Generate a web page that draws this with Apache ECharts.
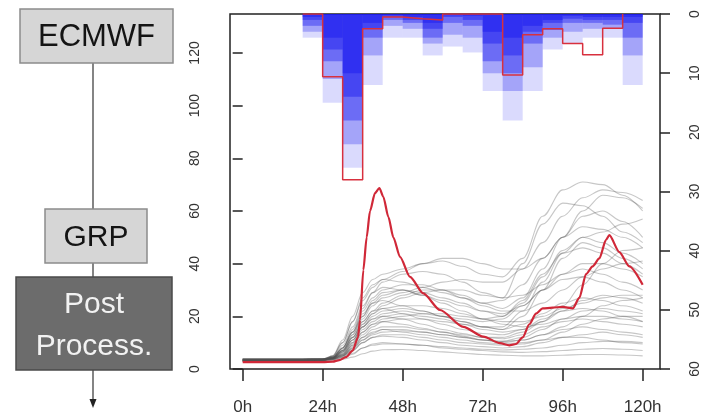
<!DOCTYPE html>
<html>
<head>
<meta charset="utf-8">
<script src="https://cdn.jsdelivr.net/npm/echarts@6/dist/echarts.min.js"></script>
<style>
  html, body { margin: 0; padding: 0; background: #ffffff; }
  #chart { width: 706px; height: 418px; }
</style>
</head>
<body>
<div id="chart"></div>
<script>
const FONT = '"Liberation Sans", Arial, Helvetica, sans-serif';

// Lead-time axis ticks
const timeTicks = [0, 24, 48, 72, 96, 120];
const timeTickLabels = ['0h', '24h', '48h', '72h', '96h', '120h'];
// Discharge axis (left) and rainfall axis (right, inverted)
const dischargeTicks = [0, 20, 40, 60, 80, 100, 120];
const rainTicks = [0, 10, 20, 30, 40, 50, 60];

// 6-hourly rainfall bins: start hour of each bin
const rainBinStart = [0, 6, 12, 18, 24, 30, 36, 42, 48, 54, 60, 66, 72, 78, 84, 90, 96, 102, 108, 114];
const rainBinHours = 6;
// Ensemble rainfall quantiles per bin (mm)
const rainQ90 = [0, 0, 0, 4, 15, 26, 12, 4, 4, 7, 5.5, 6.5, 13, 18, 13, 6, 5, 4, 4, 12];
const rainQ75 = [0, 0, 0, 3, 11, 22, 7, 2, 2.5, 5, 3.5, 4, 10, 13, 9, 4, 3, 2.5, 2.5, 7];
const rainQ50 = [0, 0, 0, 2, 8, 18, 4, 1, 1.5, 4, 1.5, 2, 8, 10, 5, 2.7, 1.5, 1.5, 1.8, 4];
const rainQ25 = [0, 0, 0, 1, 6, 14, 2.5, 0.5, 1, 2.5, 0.5, 1, 5, 7, 3, 1.5, 0.8, 1, 1, 1.5];
const rainQ10 = [0, 0, 0, 0.5, 4, 10, 1.5, 0.2, 0.5, 1.5, 0.2, 0.3, 3, 4, 2, 1, 0.3, 0.5, 0.5, 0.5];
// Observed rainfall per bin (mm)
const rainObserved = [null, null, null, 0, 10.6, 28, 2.5, 0.5, 0.8, 1, 0, 0, 0, 10.3, 3.5, 2.5, 5, 6.9, 2.4, 0];

// Observed discharge (m3/s)
const obsHours = [0, 6, 12, 18, 24, 27, 29, 31, 33, 34.6, 35.2, 36.2, 37.2, 38.2, 39.7, 41, 42.2, 43.7, 45.2, 47.2,
  50.2, 54.2, 59.2, 66.2, 72.2, 77.2, 80, 82, 84, 86, 88, 90, 93, 96, 99, 101, 103, 105, 107, 109, 110, 113, 116, 120];
const obsFlow = [2.6, 2.6, 2.6, 2.6, 2.6, 2.8, 3.4, 4.5, 7, 12, 18.6, 37.6, 50, 60, 66.8, 68.7, 65.4, 57.8, 50, 42.6,
  35, 28.7, 22.4, 16, 12.3, 9.8, 9, 9.5, 12, 17, 21, 23, 23.3, 23.6, 23, 27, 36, 39, 42, 49, 50.8, 44.4, 39, 32];

// Ensemble discharge members (m3/s)
const memberHours = [0, 6, 12, 18, 24, 27, 30, 33, 36, 39, 42, 48, 54, 60, 66, 72, 78, 84, 90, 96, 102, 108, 114, 120];
const members = [
  [3.0, 3.0, 3.0, 3.0, 3.1, 3.3, 3.7, 4.5, 5.8, 6.8, 7.3, 7.4, 7.0, 6.5, 6.0, 5.5, 5.2, 5.0, 5.0, 5.2, 5.5, 5.5, 5.3, 5.0],
  [3.3, 3.3, 3.3, 3.3, 3.4, 3.6, 4.2, 5.6, 8.0, 9.5, 10, 9.5, 9.0, 8.0, 7.5, 7.0, 6.5, 6.3, 6.6, 7.0, 7.5, 7.8, 7.5, 7.0],
  [3.6, 3.6, 3.6, 3.6, 3.7, 3.9, 4.8, 7.0, 10, 12, 12.5, 12, 11, 10, 9.0, 8.5, 8.0, 8.5, 10, 12, 12, 11, 10, 9.5],
  [3.1, 3.1, 3.1, 3.1, 3.2, 3.6, 5.0, 8.0, 12, 14, 15, 14, 13, 12, 11, 10, 9.5, 10, 11, 12, 13, 14, 13, 12],
  [3.8, 3.8, 3.8, 3.8, 3.9, 4.2, 5.6, 9.0, 14, 17, 18, 17, 15.5, 14, 12.5, 11, 10, 11, 13, 15, 16, 15, 14, 13],
  [3.3, 3.3, 3.3, 3.3, 3.4, 3.9, 6.0, 10, 16, 19, 20, 19, 17, 15, 13.5, 12, 11.5, 13, 16, 18, 19, 18, 17, 16],
  [3.7, 3.7, 3.7, 3.7, 3.8, 4.3, 7.0, 12, 18, 22, 23, 21, 19, 17, 15, 13.5, 13, 15, 19, 22, 23, 22, 20, 18],
  [3.2, 3.2, 3.2, 3.2, 3.4, 4.3, 8.0, 14, 21, 25, 26, 24, 22, 20, 18, 16, 15, 17, 21, 25, 27, 26, 24, 22],
  [3.9, 3.9, 3.9, 3.9, 4.0, 4.4, 7.0, 13, 20, 26, 29, 30, 28, 25, 22, 19, 17, 16, 17, 19, 20, 20, 19, 18],
  [3.0, 3.0, 3.0, 3.0, 3.2, 4.5, 9.0, 16, 24, 29, 31, 30, 28, 26, 24, 22, 21, 24, 30, 36, 40, 40, 38, 35],
  [3.5, 3.5, 3.5, 3.5, 3.7, 5.0, 10, 18, 27, 32, 34, 33, 31, 29, 27, 25, 26, 32, 42, 50, 54, 53, 50, 46],
  [3.4, 3.4, 3.4, 3.4, 3.6, 4.6, 8.0, 15, 23, 29, 33, 36, 37, 36, 33, 29, 27, 40, 55, 63, 62, 58, 52, 48],
  [3.1, 3.1, 3.1, 3.1, 3.4, 5.0, 11, 20, 29, 34, 36, 38, 40, 41, 39, 36, 35, 42, 58, 68, 71, 70, 66, 60],
  [3.7, 3.7, 3.7, 3.7, 3.8, 4.9, 10, 18, 26, 31, 34, 37, 40, 42, 42, 40, 38, 38, 42, 50, 60, 66, 65, 61],
  [3.2, 3.2, 3.2, 3.2, 3.3, 4.2, 7.0, 12, 18, 22, 25, 28, 30, 30, 28, 25, 23, 27, 38, 50, 58, 60, 56, 50],
  [3.6, 3.6, 3.6, 3.6, 3.7, 4.6, 8.0, 14, 20, 25, 28, 30, 29, 27, 25, 22, 20, 25, 35, 45, 50, 48, 44, 40],
  [3.0, 3.0, 3.0, 3.0, 3.2, 4.0, 6.5, 11, 16, 20, 22, 23, 22, 20, 18, 16, 15, 20, 30, 42, 48, 46, 42, 38],
  [3.8, 3.8, 3.8, 3.8, 3.9, 4.3, 6.0, 10, 15, 18, 20, 21, 20, 19, 17, 15, 14, 15, 18, 24, 32, 40, 45, 46],
  [3.5, 3.5, 3.5, 3.5, 3.6, 4.1, 7.0, 12, 17, 21, 24, 27, 29, 30, 30, 28, 27, 28, 32, 36, 38, 36, 33, 30],
  [3.2, 3.2, 3.2, 3.2, 3.3, 3.7, 5.5, 9.0, 13, 16, 18, 19, 19, 18, 17, 16, 16, 22, 33, 44, 50, 52, 55, 57],
  [3.7, 3.7, 3.7, 3.7, 3.8, 4.0, 5.1, 8.5, 12, 15, 16, 16, 15, 14, 13, 12, 12, 14, 18, 22, 26, 28, 27, 25],
  [3.1, 3.1, 3.1, 3.1, 3.1, 3.4, 4.5, 7.0, 10, 12, 13, 13, 12, 11, 10, 9.5, 9.0, 9.5, 11, 14, 17, 19, 20, 20],
  [3.5, 3.5, 3.5, 3.5, 3.5, 3.8, 5.0, 8.0, 11, 13, 14, 14.5, 14, 13, 12, 11, 10.5, 11, 13, 16, 20, 24, 26, 27],
  [3.3, 3.3, 3.3, 3.3, 3.5, 4.5, 8.0, 14, 22, 27, 30, 32, 32, 30, 27, 24, 22, 22, 25, 30, 35, 38, 40, 41],
  [3.0, 3.0, 3.0, 3.0, 3.2, 4.0, 6.5, 11, 17, 21, 23, 24, 24, 23, 21, 19, 18, 18, 20, 23, 25, 27, 28, 28],
  [3.6, 3.6, 3.6, 3.6, 3.6, 3.8, 4.4, 6.0, 8.0, 9.0, 9.5, 9.5, 9.0, 8.5, 8.0, 7.5, 7.2, 7.5, 8.0, 9.0, 10, 10.5, 10.5, 10],
  [3.2, 3.2, 3.2, 3.2, 3.3, 4.3, 7.5, 13, 19, 24, 27, 29, 31, 33, 34, 33, 33, 38, 48, 58, 65, 68, 67, 64],
  [3.4, 3.4, 3.4, 3.4, 3.5, 3.8, 5.5, 9.5, 14, 17, 19, 20, 21, 21, 20, 19, 20, 26, 36, 44, 46, 44, 40, 36],
  [3.9, 3.9, 3.9, 3.9, 3.9, 4.2, 5.2, 7.5, 11, 13.5, 15, 15, 14, 13, 12, 11, 10.5, 12, 15, 19, 22, 23, 22, 21],
  [3.5, 3.5, 3.5, 3.5, 3.6, 4.1, 6.5, 11, 16, 19, 21, 22, 21, 20, 19, 18, 19, 24, 30, 34, 35, 33, 30, 27]
];

// One translucent layer of rainfall bars hanging from the top (inverted axis)
function rainLayer(values, alpha) {
  return {
    type: 'custom',
    xAxisIndex: 0,
    yAxisIndex: 1,
    silent: true,
    clip: true,
    z: 1,
    encode: { x: [0, 1], y: 2 },
    data: rainBinStart.map((h, i) => [h, h + rainBinHours, values[i]]),
    renderItem(params, api) {
      const v = api.value(2);
      if (!v) return null;
      const p0 = api.coord([api.value(0), 0]);
      const p1 = api.coord([api.value(1), v]);
      return {
        type: 'rect',
        shape: { x: p0[0], y: p0[1], width: p1[0] - p0[0], height: p1[1] - p0[1] },
        style: { fill: 'rgba(25,25,240,' + alpha + ')' }
      };
    }
  };
}

const rainLayers = [
  rainLayer(rainQ90, 0.16),
  rainLayer(rainQ75, 0.28),
  rainLayer(rainQ50, 0.4),
  rainLayer(rainQ25, 0.45),
  rainLayer(rainQ10, 0.5)
];

// Observed rainfall as a step outline
const obsRainData = [];
rainBinStart.forEach((h, i) => { if (rainObserved[i] !== null) obsRainData.push([h, rainObserved[i]]); });

const memberSeries = members.map(m => ({
  type: 'line',
  xAxisIndex: 0,
  yAxisIndex: 0,
  silent: true,
  showSymbol: false,
  smooth: 0.35,
  smoothMonotone: 'x',
  z: 2,
  lineStyle: { color: 'rgba(80,80,80,0.32)', width: 1.1 },
  data: memberHours.map((h, i) => [h, m[i]])
}));

const chart = echarts.init(document.getElementById('chart'), null, { renderer: 'canvas' });

chart.setOption({
  animation: false,
  backgroundColor: '#ffffff',
  textStyle: { fontFamily: FONT },
  grid: {
    left: 230, right: 46, top: 14, bottom: 49,
    show: true, borderColor: '#222222', borderWidth: 1.5, backgroundColor: 'transparent'
  },
  xAxis: {
    type: 'value',
    min: -3.8,
    max: 125.2,
    axisLine: { show: false },
    splitLine: { show: false },
    axisTick: { show: true, customValues: timeTicks, length: 12, lineStyle: { color: '#222', width: 1.5 } },
    axisLabel: {
      customValues: timeTicks,
      formatter: v => timeTickLabels[timeTicks.indexOf(v)],
      margin: 30, fontSize: 17, color: '#333', fontFamily: FONT
    }
  },
  yAxis: [
    {
      type: 'value',
      position: 'left',
      min: 0,
      max: 134.8,
      axisLine: { show: false },
      splitLine: { show: false },
      axisTick: { show: true, customValues: dischargeTicks, length: 10, lineStyle: { color: '#222', width: 1.5 } },
      axisLabel: {
        customValues: dischargeTicks, rotate: 90, margin: 28,
        fontSize: 14, color: '#333', fontFamily: FONT
      }
    },
    {
      type: 'value',
      position: 'right',
      inverse: true,
      min: 0,
      max: 60,
      axisLine: { show: false },
      splitLine: { show: false },
      axisTick: { show: true, customValues: rainTicks, length: 10, lineStyle: { color: '#222', width: 1.5 } },
      axisLabel: {
        customValues: rainTicks, rotate: 90, margin: 28,
        fontSize: 14, color: '#333', fontFamily: FONT
      }
    }
  ],
  series: [
    ...rainLayers,
    {
      type: 'line',
      xAxisIndex: 0,
      yAxisIndex: 1,
      silent: true,
      showSymbol: false,
      step: 'end',
      z: 4,
      lineStyle: { color: '#d8303e', width: 1.5 },
      data: obsRainData
    },
    ...memberSeries,
    {
      type: 'line',
      xAxisIndex: 0,
      yAxisIndex: 0,
      silent: true,
      showSymbol: false,
      smooth: 0.25,
      smoothMonotone: 'x',
      z: 5,
      lineStyle: { color: '#d02838', width: 2.2 },
      data: obsHours.map((h, i) => [h, obsFlow[i]])
    }
  ],
  graphic: [
    // connectors
    { type: 'line', shape: { x1: 93, y1: 63, x2: 93, y2: 209 }, style: { stroke: '#333', lineWidth: 1.2 } },
    { type: 'line', shape: { x1: 93, y1: 263, x2: 93, y2: 277 }, style: { stroke: '#333', lineWidth: 1.2 } },
    { type: 'line', shape: { x1: 93, y1: 370, x2: 93, y2: 401 }, style: { stroke: '#333', lineWidth: 1.2 } },
    { type: 'polygon', shape: { points: [[89.5, 399], [96.5, 399], [93, 408]] }, style: { fill: '#222' } },
    // ECMWF box
    { type: 'rect', shape: { x: 20, y: 9, width: 153, height: 54 }, style: { fill: '#d6d6d6', stroke: '#8c8c8c', lineWidth: 1.5 } },
    { type: 'text', x: 96.5, y: 37, style: { text: 'ECMWF', fill: '#141414', font: '31px ' + FONT, textAlign: 'center', textVerticalAlign: 'middle' } },
    // GRP box
    { type: 'rect', shape: { x: 45, y: 209, width: 102, height: 54 }, style: { fill: '#d6d6d6', stroke: '#8c8c8c', lineWidth: 1.5 } },
    { type: 'text', x: 96, y: 238, style: { text: 'GRP', fill: '#141414', font: '30px ' + FONT, textAlign: 'center', textVerticalAlign: 'middle' } },
    // Post-processing box
    { type: 'rect', shape: { x: 16, y: 277, width: 156, height: 93 }, style: { fill: '#6c6c6c', stroke: '#4a4a4a', lineWidth: 1.5 } },
    { type: 'text', x: 94, y: 305, style: { text: 'Post', fill: '#f2f2f2', font: '30px ' + FONT, textAlign: 'center', textVerticalAlign: 'middle' } },
    { type: 'text', x: 94, y: 347, style: { text: 'Process.', fill: '#f2f2f2', font: '30px ' + FONT, textAlign: 'center', textVerticalAlign: 'middle' } }
  ]
});
</script>
</body>
</html>
